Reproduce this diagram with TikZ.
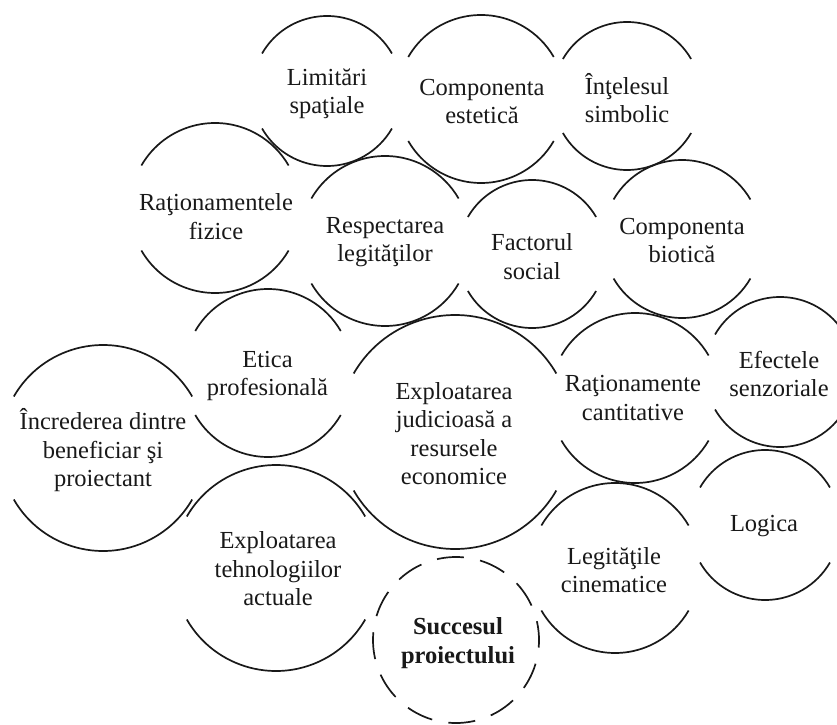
\documentclass[tikz,border=0pt]{standalone}
\usepackage{fontspec}
\setmainfont{Liberation Serif}
% Two opposite arcs of one circle, open at the left and right sides
\newcommand{\twoarcs}[2]{%
  \draw[ring] ([shift={(150:#2)}]#1) arc[start angle=150, end angle=30, radius=#2];
  \draw[ring] ([shift={(210:#2)}]#1) arc[start angle=210, end angle=330, radius=#2];}
\begin{document}
\begin{tikzpicture}[x=1pt,y=1pt,
  ring/.style={line width=1.7pt, black!90},
  goalring/.style={line width=1.7pt, black!90, dash pattern=on 27pt off 16.5pt, dash phase=8pt},
  lbl/.style={align=center, font=\fontsize{24.5}{28.5}\selectfont, inner sep=0pt, text=black!90},
  goallbl/.style={lbl, font=\fontsize{24.5}{28.5}\selectfont\bfseries}]
\useasboundingbox (0,0) rectangle (837,724);
\fill[white] (0,0) rectangle (837,724);
\clip (0,0) rectangle (837,724);

% circle centres
\coordinate (cLim) at (327,633);
\coordinate (cEst) at (481,625);
\coordinate (cSim) at (627,628);
\coordinate (cFiz) at (215,516);
\coordinate (cLeg) at (385,483);
\coordinate (cSoc) at (532,470);
\coordinate (cBio) at (682,485);
\coordinate (cEti) at (268,351);
\coordinate (cInc) at (103,276);
\coordinate (cRes) at (455,292);
\coordinate (cCan) at (635,326);
\coordinate (cSen) at (780,352);
\coordinate (cLog) at (765,199);
\coordinate (cCin) at (615,156);
\coordinate (cTeh) at (276,156);
\coordinate (cSuc) at (456,84);

% open circles
\twoarcs{cLim}{75}
\twoarcs{cEst}{84}
\twoarcs{cSim}{74}
\twoarcs{cFiz}{85}
\twoarcs{cLeg}{85}
\twoarcs{cSoc}{74}
\twoarcs{cBio}{79}
\twoarcs{cEti}{84}
\twoarcs{cInc}{103}
\twoarcs{cRes}{117}
\twoarcs{cCan}{85}
\twoarcs{cSen}{75}
\twoarcs{cLog}{75}
\twoarcs{cCin}{85}
\twoarcs{cTeh}{103}

% dashed goal circle
\draw[goalring] (cSuc) circle[radius=83];

% labels
\node[lbl] (tLim) at (327,630.5) {Limitări\\spaţiale};
\node[lbl] (tEst) at (482,622.5) {Componenta\\estetică};
\node[lbl] (tSim) at (627,626) {Înţelesul\\simbolic};
\node[lbl] (tFiz) at (216,507.5) {Raţionamentele\\fizice};
\node[lbl] (tLeg) at (385,482) {Respectarea\\legităţilor};
\node[lbl] (tSoc) at (532,467.5) {Factorul\\social};
\node[lbl] (tBio) at (682,483.5) {Componenta\\biotică};
\node[lbl] (tEti) at (267.5,348) {Etica\\profesională};
\node[lbl] (tInc) at (103,273.5) {Încrederea dintre\\beneficiar şi\\proiectant};
\node[lbl] (tRes) at (454,290.5) {Exploatarea\\judicioasă a\\resursele\\economice};
\node[lbl] (tCan) at (633,326) {Raţionamente\\cantitative};
\node[lbl] (tSen) at (779,350) {Efectele\\senzoriale};
\node[lbl] (tLog) at (764,198) {Logica};
\node[lbl] (tCin) at (614,154) {Legităţile\\cinematice};
\node[lbl] (tTeh) at (278,155) {Exploatarea\\tehnologiilor\\actuale};
\node[goallbl] (tSuc) at (458,81) {Succesul\\proiectului};
\end{tikzpicture}
\end{document}
